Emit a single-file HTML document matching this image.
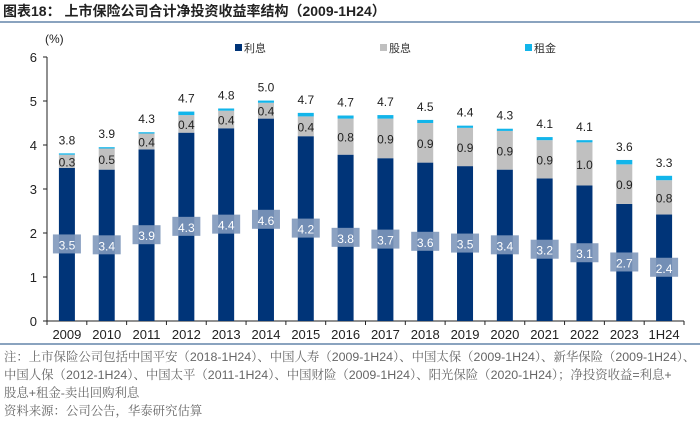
<!DOCTYPE html>
<html><head><meta charset="utf-8"><style>
body{margin:0;width:700px;height:423px;background:#fff;font-family:"Liberation Sans","Noto Sans CJK SC",sans-serif;overflow:hidden;position:relative}
.t{position:absolute;white-space:nowrap}
.note{position:absolute;left:4px;font-size:12.4px;color:#666;font-family:"Liberation Sans","Noto Serif CJK SC",serif;white-space:nowrap;line-height:14px}
</style></head><body>
<div class="t" style="left:3px;top:1px;font-size:14px;font-weight:bold;color:#222">图表18：&nbsp;上市保险公司合计净投资收益率结构（2009-1H24）</div>
<div style="position:absolute;left:0;top:21px;width:700px;height:2px;background:#8aa3bf"></div>
<svg id="c" width="700" height="340" style="position:absolute;left:0;top:0"></svg>
<div style="position:absolute;left:0;top:343px;width:700px;height:2px;background:#8aa3bf"></div>
<div class="note" style="top:350px">注：上市保险公司包括中国平安（2018-1H24）、中国人寿（2009-1H24）、中国太保（2009-1H24）、新华保险（2009-1H24）、</div>
<div class="note" style="top:368px">中国人保（2012-1H24）、中国太平（2011-1H24）、中国财险（2009-1H24）、阳光保险（2020-1H24）；净投资收益=利息+</div>
<div class="note" style="top:386px">股息+租金-卖出回购利息</div>
<div class="note" style="top:404px">资料来源：公司公告，华泰研究估算</div>
<script>
const categories=["2009","2010","2011","2012","2013","2014","2015","2016","2017","2018","2019","2020","2021","2022","2023","1H24"];
const interest=[3.48,3.44,3.9,4.28,4.38,4.6,4.2,3.78,3.7,3.6,3.52,3.44,3.24,3.08,2.66,2.42];
const dividend=[0.3,0.48,0.36,0.4,0.4,0.36,0.45,0.82,0.9,0.9,0.87,0.88,0.87,0.98,0.9,0.78];
const rent=[0.03,0.03,0.03,0.08,0.05,0.05,0.08,0.07,0.08,0.07,0.05,0.05,0.07,0.05,0.1,0.1];
const interestLabels=["3.5","3.4","3.9","4.3","4.4","4.6","4.2","3.8","3.7","3.6","3.5","3.4","3.2","3.1","2.7","2.4"];
const dividendLabels=["0.3","0.5","0.4","0.4","0.4","0.4","0.4","0.8","0.9","0.9","0.9","0.9","0.9","1.0","0.9","0.8"];
const totalLabels=["3.8","3.9","4.3","4.7","4.8","5.0","4.7","4.7","4.7","4.5","4.4","4.3","4.1","4.1","3.6","3.3"];
const yTicks=[0,1,2,3,4,5,6];
const svg=document.getElementById('c');const NS="http://www.w3.org/2000/svg";
const x0=47,x1=684,y0=321,yTop=57;
const y=v=>y0-(v/6)*(y0-yTop);
const step=(x1-x0)/categories.length;
const xc=i=>x0+step*(i+0.5);
function mk(tag,a,txt){const e=document.createElementNS(NS,tag);for(const k in a)e.setAttribute(k,a[k]);if(txt!=null)e.textContent=txt;svg.appendChild(e);return e;}
let e=mk('line',{x1:x0,y1:y0,x2:x0,y2:yTop,stroke:'#222','stroke-width':1});

e=mk('line',{x1:x0,y1:y0,x2:x1,y2:y0,stroke:'#222','stroke-width':1});

yTicks.forEach(t=>{
 e=mk('line',{x1:x0-4,y1:y(t),x2:x0,y2:y(t),stroke:'#222'});
 
 e=mk('text',{x:x0-10,y:y(t)+5,'text-anchor':'end','font-size':13,fill:'#222'},String(t));
 
});
e=mk('text',{x:45,y:43,'font-size':12,fill:'#222'},'(%)');

for(let i=0;i<=categories.length;i++){e=mk('line',{x1:x0+step*i,y1:y0,x2:x0+step*i,y2:y0+4,stroke:'#222'});
 }
const bw=16;
categories.forEach((c,i)=>{
 const cx=xc(i);
 e=mk('text',{x:cx,y:y0+18,'text-anchor':'middle','font-size':13,fill:'#222'},c);
 
 const a=interest[i],b=dividend[i],r=rent[i];
 e=mk('rect',{x:cx-bw/2,y:y(a),width:bw,height:y(0)-y(a),fill:'#003478'});
 
 e=mk('rect',{x:cx-bw/2,y:y(a+b),width:bw,height:y(a)-y(a+b),fill:'#c0c0c0'});
 
 e=mk('rect',{x:cx-bw/2,y:y(a+b+r),width:bw,height:y(a+b)-y(a+b+r),fill:'#12b5ea'});
 
 e=mk('rect',{x:cx-14,y:y(a/2)-10,width:28,height:19,fill:'#7f98bb','fill-opacity':0.9});
 
 e=mk('text',{x:cx,y:y(a/2)+5,'text-anchor':'middle','font-size':12,fill:'#fff'},interestLabels[i]);
 
 e=mk('text',{x:cx,y:y(a+b/2)+5,'text-anchor':'middle','font-size':12,fill:'#222'},dividendLabels[i]);
 
 e=mk('text',{x:cx,y:y(a+b+r)-9,'text-anchor':'middle','font-size':12,fill:'#222'},totalLabels[i]);
 
});
[["利息","#003478",235],["股息","#c0c0c0",380],["租金","#12b5ea",525]].forEach(l=>{
 e=mk('rect',{x:l[2],y:44,width:7,height:7,fill:l[1]});
 
 e=mk('text',{x:l[2]+9,y:52,'font-size':11,fill:'#333'},l[0]);
 
});
</script>
</body></html>
